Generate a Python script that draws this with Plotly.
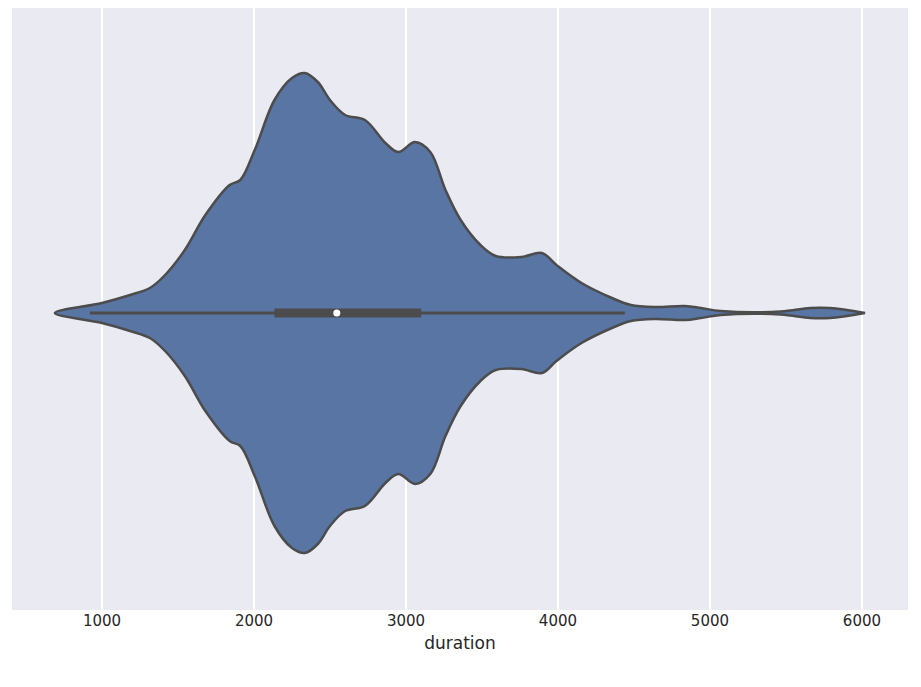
import plotly.graph_objects as go

# outline of the violin (duration vs. half-width of the density)
duration = [690, 1000, 1185, 1315, 1415, 1545, 1680, 1840, 1910, 2005, 2135, 2250, 2335,
            2420, 2500, 2600, 2730, 2865, 2950, 3060, 3160, 3260, 3360, 3490, 3590, 3760,
            3895, 3990, 4155, 4355, 4480, 4640, 4835, 4940, 5070, 5465, 5660, 5790, 6020]
density = [0, 10, 18, 25, 38, 63, 98, 128, 133, 163, 213, 235, 240,
           231, 213, 198, 193, 170, 161, 171, 161, 123, 93, 68, 57, 56,
           60, 48, 30, 15, 8, 6, 7, 5, 2, 1.5, 5, 5, 0]

whisker = [920, 4440]
quartiles = [2135, 3100]
median = 2545

edge = "#4c4c4c"
fig = go.Figure()
fig.add_scatter(
    x=duration + duration[::-1],
    y=density + [-d for d in density[::-1]],
    fill="toself", fillcolor="#5875a4",
    line=dict(color=edge, width=2.5, shape="spline"),
    mode="lines", hoverinfo="skip",
)
fig.add_scatter(x=whisker, y=[0, 0], mode="lines", line=dict(color=edge, width=3))
fig.add_scatter(x=quartiles, y=[0, 0], mode="lines", line=dict(color=edge, width=9))
fig.add_scatter(x=[median], y=[0], mode="markers",
                marker=dict(color="white", size=7, line=dict(width=0)))

fig.update_layout(
    width=921, height=687,
    margin=dict(l=4, r=21, t=0, b=85, pad=0),
    plot_bgcolor="#eaeaf2", paper_bgcolor="white",
    showlegend=False,
    font=dict(family="DejaVu Sans", color="#262626", size=15),
    xaxis=dict(range=[408, 6303], tickvals=[1000, 2000, 3000, 4000, 5000, 6000],
               gridcolor="white", gridwidth=1.5, zeroline=False, showline=False,
               automargin=False,
               title=dict(text="duration", font=dict(size=17), standoff=8), ticks=""),
    yaxis=dict(range=[-297, 305], showticklabels=False, showgrid=False,
               automargin=False, zeroline=False, showline=False),
)
fig.write_html("out.html")
